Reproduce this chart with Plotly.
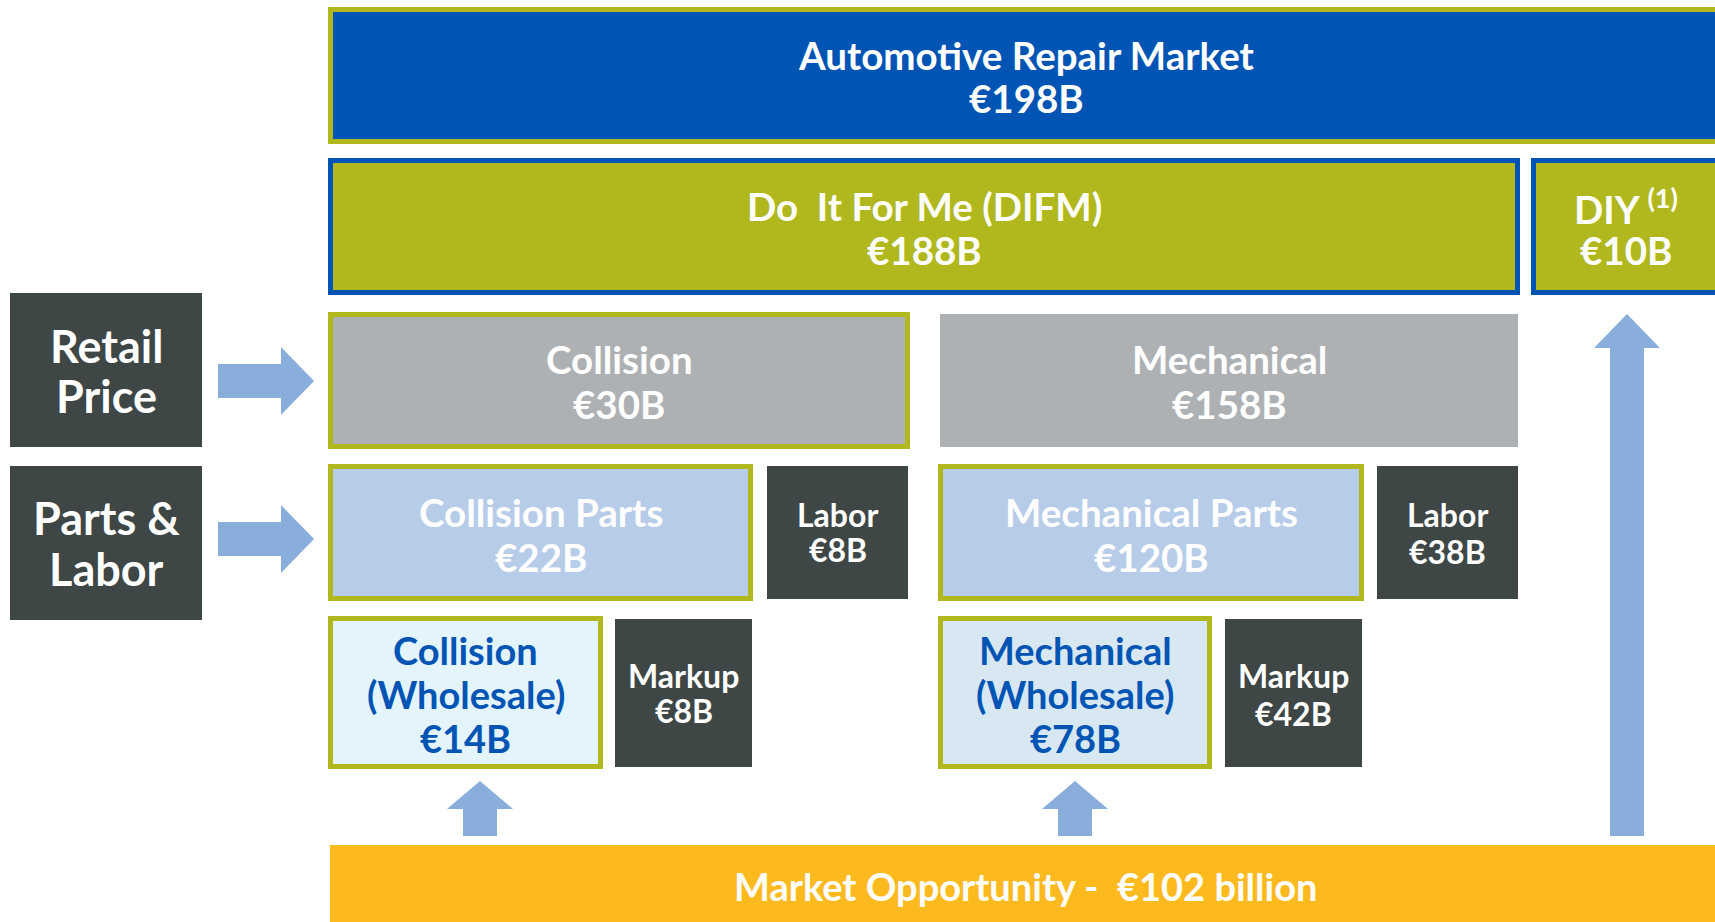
import plotly.graph_objects as go

# ---------------- data ----------------
segment_names = ["Automotive Repair Market", "Do  It For Me (DIFM)", "DIY", "Collision", "Mechanical",
                 "Collision Parts", "Labor", "Mechanical Parts", "Labor",
                 "Collision|(Wholesale)", "Markup", "Mechanical|(Wholesale)", "Markup"]
segment_values = [198, 188, 10, 30, 158, 22, 8, 120, 38, 14, 8, 78, 42]  # € billions
row_labels = ["Retail|Price", "Parts &|Labor"]
opportunity_label = "Market Opportunity -  €{} billion"
opportunity_value = 102

# ---------------- styles / layout ----------------
BLUE = "#0054B4"
GREEN = "#B0B81E"
GRAY = "#AEB1B4"
LIGHT = "#B7CCE9"
DARK = "#3E4646"
WHOLE1 = "#E3F4FC"
WHOLE2 = "#D7E8F2"
ARROW = "#8AAEDB"
YELLOW = "#FDBA1F"
FONT = "Lato"

# box geometry (x0, y0, x1, y1), fill, border, text colour, font size, line centre ys
boxes = [
    ((328, 7, 1730, 144), BLUE, GREEN, "white", 38.5, [55, 98]),
    ((328, 158, 1520, 295), GREEN, BLUE, "white", 38.5, [206, 250]),
    ((1531, 158, 1730, 295), GREEN, BLUE, "white", 38.5, [206, 250]),
    ((328, 312, 910, 449), GRAY, GREEN, "white", 38.5, [359, 404]),
    ((940, 314, 1518, 447), GRAY, None, "white", 38.5, [359, 404]),
    ((328, 464, 753, 601), LIGHT, GREEN, "white", 38.5, [512, 557]),
    ((767, 466, 908, 599), DARK, None, "white", 32, [514, 549]),
    ((938, 464, 1364, 601), LIGHT, GREEN, "white", 38.5, [512, 557]),
    ((1377, 466, 1518, 599), DARK, None, "white", 32, [514, 551]),
    ((328, 616, 603, 769), WHOLE1, GREEN, BLUE, 38, [650, 694, 738]),
    ((615, 619, 752, 767), DARK, None, "white", 32, [675, 710]),
    ((938, 616, 1212, 769), WHOLE2, GREEN, BLUE, 38, [650, 694, 738]),
    ((1225, 619, 1362, 767), DARK, None, "white", 32, [675, 713]),
]
label_boxes = [((10, 293, 202, 447), [346, 396]), ((10, 466, 202, 620), [518, 569])]

fig = go.Figure()
shapes = []
annotations = []
BW = 5


def add_text(x, y, text, size, color):
    annotations.append(dict(x=x, y=y, xref="x", yref="y", showarrow=False, yanchor="middle",
                            text=f"<b>{text}</b>", font=dict(family=FONT, size=size, color=color)))


for (name, val, (geo, fill, border, tcol, fs, ys)) in zip(segment_names, segment_values, boxes):
    x0, y0, x1, y1 = geo
    if border:
        shapes.append(dict(type="rect", x0=x0 + BW / 2, y0=y0 + BW / 2, x1=x1 - BW / 2, y1=y1 - BW / 2,
                           fillcolor=fill, line=dict(color=border, width=BW), layer="below"))
    else:
        shapes.append(dict(type="rect", x0=x0, y0=y0, x1=x1, y1=y1,
                           fillcolor=fill, line=dict(width=0), layer="below"))
    lines = name.split("|")
    if name == "DIY":
        lines = ["DIY <sup>(1)</sup>"]
    lines = lines + [f"€{val}B"]
    cx = (x0 + x1) / 2
    if name == "Automotive Repair Market":
        cx = 1026
    if name == "DIY":
        cx = 1626
    for ln, y in zip(lines, ys):
        add_text(cx, y, ln, fs, tcol)

for lab, ((x0, y0, x1, y1), ys) in zip(row_labels, label_boxes):
    shapes.append(dict(type="rect", x0=x0, y0=y0, x1=x1, y1=y1, fillcolor=DARK,
                       line=dict(width=0), layer="below"))
    for ln, y in zip(lab.split("|"), ys):
        add_text((x0 + x1) / 2, y, ln, 45, "white")

# right arrows
for cy in [381, 539]:
    p = (f"M 218 {cy-17} L 281 {cy-17} L 281 {cy-34} L 314 {cy} L 281 {cy+34} "
         f"L 281 {cy+17} L 218 {cy+17} Z")
    shapes.append(dict(type="path", path=p, fillcolor=ARROW, line=dict(width=0)))


# up arrows
def up_arrow(cx, tip, base, bottom, hw, sw):
    return (f"M {cx} {tip} L {cx+hw} {base} L {cx+sw} {base} L {cx+sw} {bottom} "
            f"L {cx-sw} {bottom} L {cx-sw} {base} L {cx-hw} {base} Z")


shapes.append(dict(type="path", path=up_arrow(480, 781, 809, 836, 33, 17), fillcolor=ARROW, line=dict(width=0)))
shapes.append(dict(type="path", path=up_arrow(1075, 781, 809, 836, 33, 17), fillcolor=ARROW, line=dict(width=0)))
shapes.append(dict(type="path", path=up_arrow(1627, 314, 348, 836, 33, 17), fillcolor=ARROW, line=dict(width=0)))

# market opportunity bar
shapes.append(dict(type="rect", x0=330, y0=845, x1=1730, y1=940, fillcolor=YELLOW,
                   line=dict(width=0), layer="below"))
add_text(1025, 886, opportunity_label.format(opportunity_value), 38, "white")

fig.update_layout(
    width=1715, height=922,
    margin=dict(l=0, r=0, t=0, b=0),
    paper_bgcolor="white", plot_bgcolor="white",
    xaxis=dict(range=[0, 1715], visible=False, fixedrange=True),
    yaxis=dict(range=[922, 0], visible=False, fixedrange=True),
    shapes=shapes, annotations=annotations, showlegend=False,
)
fig.write_html("out.html", config={"displayModeBar": False},
               post_script="document.body.style.margin='0';document.body.style.overflow='hidden';")
